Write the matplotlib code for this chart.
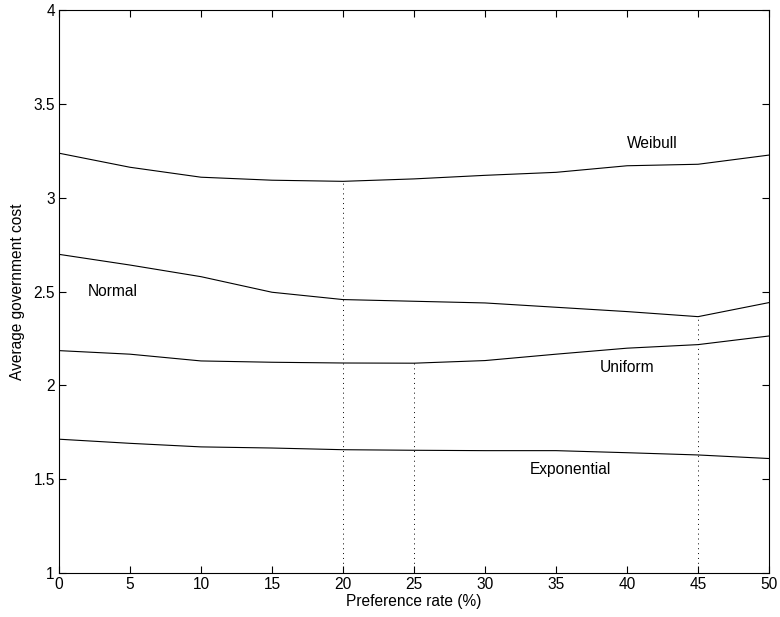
import matplotlib
matplotlib.use("Agg")
import matplotlib.pyplot as plt
from matplotlib.ticker import FuncFormatter

plt.rcParams['font.family'] = ['Liberation Sans', 'DejaVu Sans']

# preference rate (%)
rate = [0, 5, 10, 15, 20, 25, 30, 35, 40, 45, 50]

# average government cost per distribution
weibull = [3.237, 3.162, 3.109, 3.093, 3.087, 3.100, 3.119, 3.135, 3.170, 3.178, 3.227]
normal = [2.698, 2.641, 2.579, 2.496, 2.457, 2.448, 2.439, 2.416, 2.393, 2.366, 2.441]
uniform = [2.185, 2.166, 2.130, 2.123, 2.119, 2.118, 2.132, 2.166, 2.198, 2.217, 2.263]
exponential = [1.713, 1.691, 1.672, 1.666, 1.657, 1.654, 1.652, 1.652, 1.641, 1.629, 1.610]

# minimum points marked with dotted drop lines
min_x = [20, 25, 45]
min_y = [weibull[4], uniform[5], normal[9]]

fig = plt.figure(figsize=(7.8, 6.17), dpi=100)
ax = fig.add_axes([0.0756, 0.0713, 0.9104, 0.9125])

for s in [weibull, normal, uniform, exponential]:
    ax.plot(rate, s, color='black', linewidth=0.8)

for xm, ym in zip(min_x, min_y):
    ax.plot([xm, xm], [1, ym], color='black', linestyle=(0, (1, 4)), linewidth=0.7)

fs = 11.2
ax.text(41.8, 3.286, 'Weibull', ha='center', va='center', fontsize=fs)
ax.text(3.8, 2.50, 'Normal', ha='center', va='center', fontsize=fs)
ax.text(40.0, 2.096, 'Uniform', ha='center', va='center', fontsize=fs)
ax.text(36.0, 1.549, 'Exponential', ha='center', va='center', fontsize=fs)

ax.set_xlim(0, 50)
ax.set_ylim(1, 4)
ax.set_xticks(range(0, 51, 5))
ax.set_yticks([1, 1.5, 2, 2.5, 3, 3.5, 4])
ax.yaxis.set_major_formatter(FuncFormatter(lambda v, p: '%g' % v))
ax.tick_params(direction='in', top=True, right=True, length=5, labelsize=fs, width=0.8, pad=3)
for sp in ax.spines.values():
    sp.set_linewidth(0.8)

ax.set_xlabel('Preference rate (%)', fontsize=fs, labelpad=1)
ax.set_ylabel('Average government cost', fontsize=fs, labelpad=6)

fig.savefig('out.png', dpi=100)
